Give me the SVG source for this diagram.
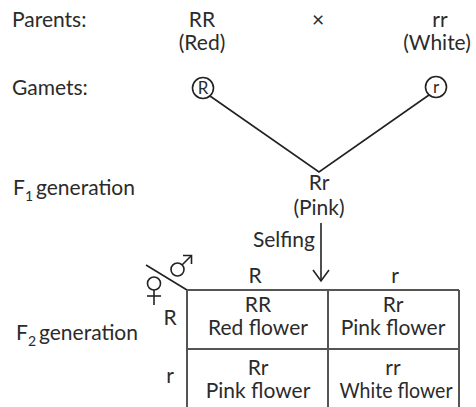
<svg xmlns="http://www.w3.org/2000/svg" width="476" height="407" viewBox="0 0 476 407">
<style>
text{font-family:Lato,"Open Sans","Liberation Sans",sans-serif;font-size:21px;fill:#2b2b2b}
.m{text-anchor:middle}
.e{text-anchor:end}
.sub{font-size:14px}
.g{font-size:17px}
.ln{stroke:#222;stroke-width:1.6;fill:none}
.tb{stroke:#555;stroke-width:2;fill:none}
</style>
<g id="labels">
<text x="12" y="27">Parents:</text>
<text x="12" y="95">Gamets:</text>
<text x="13" y="195">F<tspan class="sub" dy="6">1</tspan><tspan dy="-6" dx="3">generation</tspan></text>
<text x="16" y="340">F<tspan class="sub" dy="6">2</tspan><tspan dy="-6" dx="3">generation</tspan></text>
</g>
<g id="parent-RR"><text class="m" x="202" y="27">RR</text><text class="m" x="202" y="50">(Red)</text></g>
<g id="cross"><text class="m" x="318" y="27">×</text></g>
<g id="parent-rr"><text class="m" x="440" y="27">rr</text><text class="m" x="437" y="50">(White)</text></g>
<g id="gamete-R"><circle class="ln" cx="203" cy="88" r="10.5"/><text class="m g" x="203" y="94">R</text></g>
<g id="gamete-r"><circle class="ln" cx="436" cy="87" r="10.5"/><text class="m g" x="436" y="93">r</text></g>
<g id="f1"><text class="m" x="319" y="190">Rr</text><text class="m" x="319" y="215">(Pink)</text></g>
<g id="selfing"><text class="e" x="315" y="247">Selfing</text></g>
<g id="connectors">
<polyline class="ln" points="210,96 319,172 429,95"/>
<line class="ln" x1="321" y1="223" x2="321" y2="281"/>
<polyline class="ln" points="313,270 321,281 329,270"/>
</g>
<g id="sex-symbols">
<line class="ln" x1="146" y1="265" x2="187" y2="290"/>
<circle class="ln" cx="177.5" cy="269.5" r="6.5"/>
<line class="ln" x1="182" y1="265" x2="191.5" y2="255.5"/>
<polyline class="ln" points="183,255.5 191.5,255.5 191.5,264"/>
<circle class="ln" cx="154" cy="283.5" r="6.5"/>
<line class="ln" x1="154" y1="290" x2="154" y2="305"/>
<line class="ln" x1="147" y1="296" x2="161" y2="296"/>
</g>
<g id="punnett">
<path class="tb" d="M187,290H459M187,349H459M187,290V407M328,290V407M459,290V407"/>
<text class="m" x="255" y="283">R</text>
<text class="m" x="395" y="283">r</text>
<text class="m" x="170" y="325">R</text>
<text class="m" x="170" y="383">r</text>
</g>
<g id="cell-RR"><text class="m" x="258" y="312">RR</text><text class="m" x="258" y="335">Red flower</text></g>
<g id="cell-Rr1"><text class="m" x="393" y="312">Rr</text><text class="m" x="393" y="335">Pink flower</text></g>
<g id="cell-Rr2"><text class="m" x="258" y="375">Rr</text><text class="m" x="258" y="398">Pink flower</text></g>
<g id="cell-rr"><text class="m" x="393" y="375">rr</text><text class="m" x="396" y="398" textLength="113" lengthAdjust="spacingAndGlyphs">White flower</text></g>
</svg>
